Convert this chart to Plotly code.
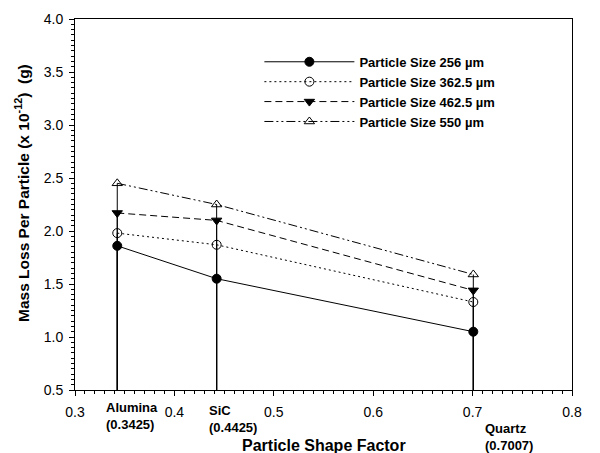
import plotly.graph_objects as go

shape_factor = [0.3425, 0.4425, 0.7007]
materials = ["Alumina", "SiC", "Quartz"]
series_names = ["Particle Size 256 µm", "Particle Size 362.5 µm",
                "Particle Size 462.5 µm", "Particle Size 550 µm"]
mass_256 = [1.86, 1.55, 1.05]
mass_362 = [1.98, 1.87, 1.33]
mass_462 = [2.17, 2.10, 1.44]
mass_550 = [2.45, 2.25, 1.59]
series_values = [mass_256, mass_362, mass_462, mass_550]

FONT = "Arial, Liberation Sans, sans-serif"
Y_MIN, Y_MAX = 0.5, 4.0

# page body has an 8px margin; the figure is sized to fill the rest of the window
W, H = 592, 445
# plot area (reference-picture pixels)
PL, PR, PT, PB = 75, 572, 19, 390
OFF = 8


def py(px):
    return (PB - px) / (PB - PT)


def pxr(px):
    return (px - PL) / (PR - PL)


styles = [
    dict(dash="solid", symbol="circle"),
    dict(dash="2px,3px", symbol="circle-open"),
    dict(dash="7px,4px", symbol="triangle-down"),
    dict(dash="9px,3px,2px,3px,2px,3px", symbol="triangle-up-open"),
]

fig = go.Figure()

# drop lines from each point to the x axis
for vals in series_values:
    xs, ys = [], []
    for x, v in zip(shape_factor, vals):
        xs += [x, x, None]
        ys += [Y_MIN, v, None]
    fig.add_trace(go.Scatter(x=xs, y=ys, mode="lines",
                             line=dict(color="black", width=1),
                             showlegend=False, hoverinfo="skip"))

for name, vals, st in zip(series_names, series_values, styles):
    fig.add_trace(go.Scatter(
        x=shape_factor, y=vals, name=name, mode="lines+markers",
        line=dict(color="black", width=1, dash=st["dash"]),
        marker=dict(symbol=st["symbol"], size=9, color="black",
                    line=dict(color="black", width=1)),
    ))

label_pos = [(0.3292, 398), (0.4328, 401), (0.7105, 419)]
ann = []
for m, sf, (xp, yp) in zip(materials, shape_factor, label_pos):
    ann.append(dict(x=xp, xref="x", y=py(yp), yref="paper",
                    text=f"<b>{m}<br>({sf})</b>", showarrow=False,
                    xanchor="left", yanchor="top", align="left",
                    font=dict(family=FONT, size=13, color="black")))

ann.append(dict(x=pxr(22), xref="paper", y=py(193), yref="paper",
                text="<b>Mass Loss Per Particle (x 10<sup>-12</sup>)  (g)</b>",
                textangle=-90, showarrow=False, xanchor="center", yanchor="middle",
                font=dict(family=FONT, size=15.5, color="black")))
ann.append(dict(x=0.5, xref="paper", y=py(445), yref="paper",
                text="<b>Particle Shape Factor</b>",
                showarrow=False, xanchor="center", yanchor="middle",
                font=dict(family=FONT, size=16, color="black")))

fig.update_layout(
    width=W, height=H,
    margin=dict(l=PL - OFF, r=W - (PR - OFF), t=PT - OFF, b=H - (PB - OFF),
                autoexpand=False),
    paper_bgcolor="white", plot_bgcolor="white",
    font=dict(family=FONT, size=14, color="black"),
    annotations=ann,
    legend=dict(x=0.371, y=0.925, xanchor="left", yanchor="top",
                font=dict(family=FONT, size=13, color="black", weight="bold"),
                itemwidth=90, bgcolor="rgba(0,0,0,0)", tracegroupgap=0),
    xaxis=dict(range=[0.3, 0.8], dtick=0.1, tickformat=".1f", automargin=False,
               showgrid=False, zeroline=False,
               showline=True, linecolor="black", linewidth=1, mirror=True,
               ticks="outside", ticklen=5, tickcolor="black",
               ticklabelstandoff=4,
               minor=dict(dtick=0.01, ticks="outside", ticklen=3, tickcolor="black"),
               tickfont=dict(family=FONT, size=14)),
    yaxis=dict(range=[Y_MIN, Y_MAX], dtick=0.5, tickformat=".1f", automargin=False,
               showgrid=False, zeroline=False,
               showline=True, linecolor="black", linewidth=1, mirror=True,
               ticks="outside", ticklen=5, tickcolor="black",
               ticklabelstandoff=3,
               minor=dict(dtick=0.05, ticks="outside", ticklen=3, tickcolor="black"),
               tickfont=dict(family=FONT, size=14)),
)

fig.write_html("out.html")
